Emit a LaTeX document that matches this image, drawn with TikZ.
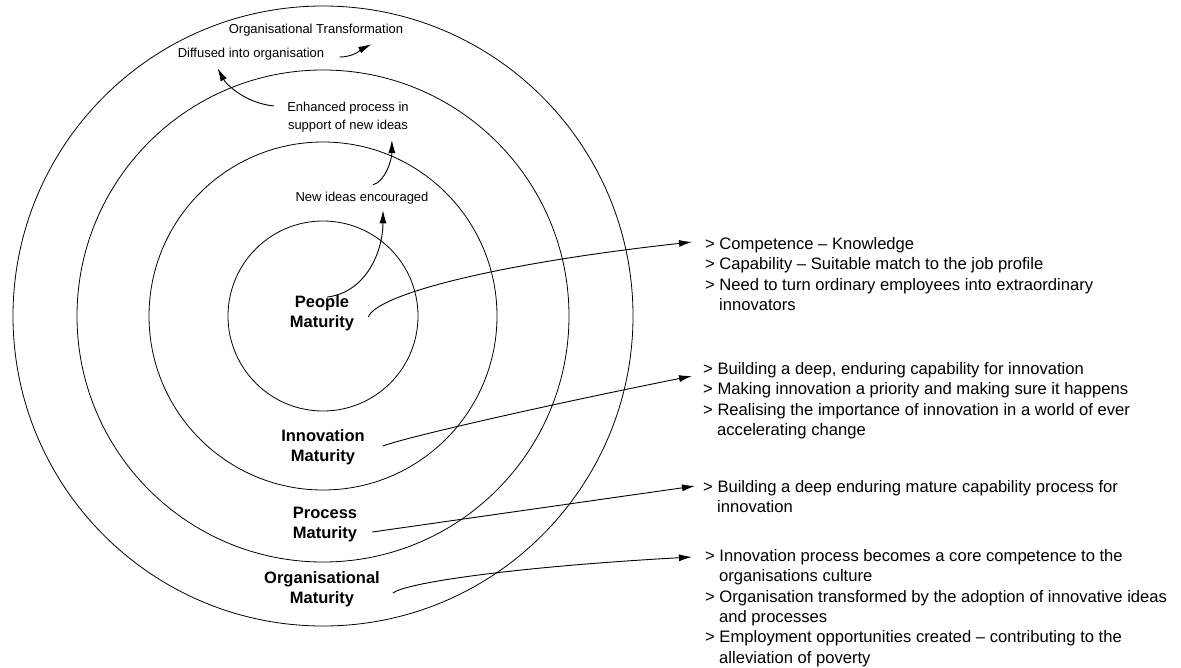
\documentclass[tikz,border=0pt]{standalone}
\usepackage{fontspec}
\setmainfont{Liberation Sans}
\usetikzlibrary{arrows.meta}

\tikzset{
    ring/.style={line width=0.8pt},
    lbl/.style={font=\fontsize{13}{17.5}\selectfont, inner sep=1pt},
    level/.style={font=\fontsize{16.5}{20}\selectfont\bfseries, align=center, inner sep=1pt},
    note/.style={font=\fontsize{16.6}{20.4}\selectfont, align=left, anchor=north west, inner sep=0pt},
    link/.style={line width=0.9pt, ->, >={Latex[length=13pt,width=7pt]}}
}

\begin{document}
\begin{tikzpicture}[x=1pt, y=-1pt]
    \useasboundingbox (0,0) rectangle (1181,667) ;
    % the four rings
    \foreach \rad in {95,174,246,310}
        \draw[ring] (323,316) circle[radius=\rad pt] ;
    % labels inside the rings
    \node[lbl] (trans) at (316,30) {Organisational Transformation} ;
    \node[lbl] (diffused) at (251,54) {Diffused into organisation} ;
    \node[lbl, align=center] (enhanced) at (348,117) {Enhanced process in\\support of new ideas} ;
    \node[lbl] (newideas) at (362,198) {New ideas encouraged} ;
    \node[level] (people) at (322,313) {People\\Maturity} ;
    \node[level] (innov) at (323,447) {Innovation\\Maturity} ;
    \node[level] (process) at (325,525) {Process\\Maturity} ;
    \node[level] (orgmat) at (322,589) {Organisational\\Maturity} ;
    % notes on the right
    \node[note] (compet) at (705,237) {> Competence – Knowledge\\> Capability – Suitable match to the job profile\\> Need to turn ordinary employees into extraordinary\\\hspace*{14pt}innovators} ;
    \node[note] (deep) at (703,362) {> Building a deep, enduring capability for innovation\\> Making innovation a priority and making sure it happens\\> Realising the importance of innovation in a world of ever\\\hspace*{14pt}accelerating change} ;
    \node[note] (mature) at (703,480) {> Building a deep enduring mature capability process for\\\hspace*{14pt}innovation} ;
    \node[note] (culture) at (705,549) {> Innovation process becomes a core competence to the\\\hspace*{14pt}organisations culture\\> Organisation transformed by the adoption of innovative ideas\\\hspace*{14pt}and processes\\> Employment opportunities created – contributing to the\\\hspace*{14pt}alleviation of poverty} ;
    % growth arrows
    \draw[link] ([shift={(5,3)}]people.north) .. controls +(40,-5) and +(0,40) .. ([shift={(21,5)}]newideas.south) ;
    \draw[link] ([shift={(11,-6)}]newideas.north) .. controls +(12,-3) and +(0,20) .. ([shift={(-18,7)}]enhanced.south east) ;
    \draw[link] ([shift={(-12,5)}]enhanced.north west) .. controls +(-30,-3) and +(8,15) .. ([shift={(41,7)}]diffused.south west) ;
    \draw[link] ([shift={(14,3)}]diffused.east) .. controls +(15,0) and +(-10,5) .. ([shift={(-33,7)}]trans.south east) ;
    % arrows to the notes
    \draw[link] ([shift={(13,4)}]people.east) .. controls +(8,-22) and +(-200,22) .. ([shift={(-13,5)}]compet.north west) ;
    \draw[link] ([shift={(17,-1)}]innov.east) .. controls +(20,-8) and +(-150,30) .. ([shift={(-11,14)}]deep.north west) ;
    \draw[link] ([shift={(14,7)}]process.east) -- ([shift={(-8,6)}]mature.north west) ;
    \draw[link] ([shift={(12,4)}]orgmat.east) .. controls +(12,-10) and +(-180,10) .. ([shift={(-13,8)}]culture.north west) ;
\end{tikzpicture}
\end{document}
